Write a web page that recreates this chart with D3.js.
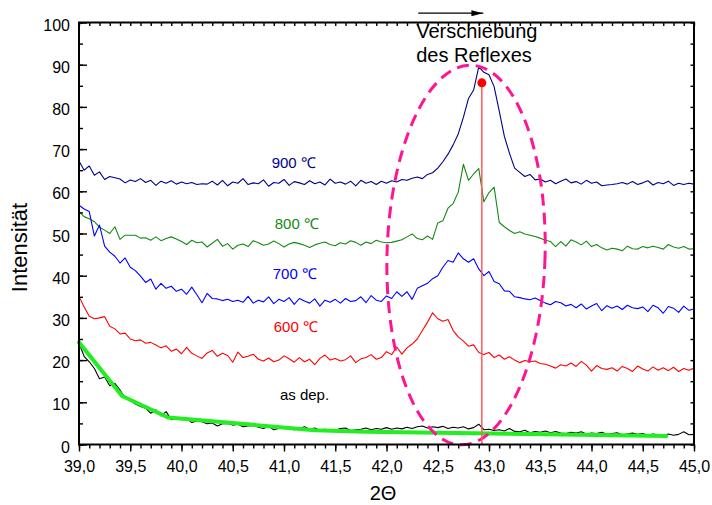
<!DOCTYPE html>
<html>
<head>
<meta charset="utf-8">
<script src="https://cdn.jsdelivr.net/npm/d3@7"></script>
<style>
  html, body { margin: 0; padding: 0; background: #fff; }
  svg { display: block; font-family: "Liberation Sans", Arial, Helvetica, sans-serif; }
</style>
</head>
<body>
<svg id="chart" width="712" height="505"></svg>
<script>
// XRD scans: intensity vs 2θ, one scan per annealing temperature.
const scanStart = 39.0;   // first 2θ of each scan
const scanStep = 0.05;    // 2θ step between readings

const xTicks = [39.0, 39.5, 40.0, 40.5, 41.0, 41.5, 42.0, 42.5, 43.0, 43.5, 44.0, 44.5, 45.0];
const yTicks = [0, 10, 20, 30, 40, 50, 60, 70, 80, 90, 100];

const seriesNames = ["900 ℃", "800 ℃", "700 ℃", "600 ℃", "as dep."];

const scan900 = [
  67.2, 65.0, 66.0, 63.8, 64.6, 62.8, 63.5, 63.2, 62.9, 62.0,
  62.7, 62.3, 63.0, 62.1, 62.6, 61.4, 62.4, 61.9, 62.5, 61.7,
  62.2, 61.8, 62.1, 61.6, 61.8, 61.7, 62.4, 61.5, 62.6, 61.3,
  62.2, 61.9, 63.0, 61.6, 62.0, 61.8, 62.7, 61.2, 62.1, 61.9,
  62.8, 61.4, 62.3, 62.0, 61.6, 62.5, 61.8, 62.2, 61.5, 62.9,
  61.9, 62.2, 61.7, 62.4, 61.3, 62.6, 61.9, 62.3, 61.6, 62.4,
  61.9, 62.5, 62.2, 62.8, 62.6, 63.1, 63.4, 63.0, 64.0, 64.4,
  65.5, 67.0, 68.8, 71.0, 73.6, 77.5, 82.0, 84.0, 89.5, 88.2,
  87.6, 84.8, 79.0, 73.0, 69.0, 65.5, 64.5, 63.5, 64.0, 62.7,
  62.9, 62.2, 62.6, 61.8, 62.4, 62.9, 62.0, 62.3, 61.7, 62.6,
  61.9, 62.2, 61.3, 61.5, 61.6, 61.8, 62.1, 61.7, 62.3, 61.6,
  62.0, 62.5, 61.5, 62.1, 61.8, 62.4, 61.4, 61.9, 61.6, 61.9,
  61.7
];

const scan800 = [
  55.2, 54.0, 53.5, 52.8, 51.5, 50.8, 50.0, 51.6, 48.6, 49.6,
  49.6, 49.6, 48.9, 49.0, 48.4, 49.2, 48.3, 48.8, 49.2, 48.7,
  48.1, 47.4, 48.4, 47.8, 48.0, 46.8, 47.7, 48.6, 47.0, 47.6,
  46.3, 47.2, 47.5, 46.9, 48.3, 47.8, 47.2, 47.5, 48.2, 47.6,
  46.8, 47.5, 47.9, 47.6, 47.2, 46.7, 47.3, 47.7, 48.0, 47.4,
  47.1, 47.8, 47.5, 48.3, 47.9, 47.2, 48.0, 47.6, 48.4, 48.0,
  47.8, 47.9, 48.2, 48.5, 49.2, 49.9, 48.8, 48.5, 49.4, 48.6,
  52.5, 53.0, 56.0, 57.1, 59.8, 66.4, 62.6, 64.1, 65.4, 57.5,
  59.7, 61.0, 52.6, 51.6, 50.7, 50.0, 50.4, 49.9, 49.6, 49.3,
  48.9, 48.4, 48.1, 46.9, 48.1, 47.0, 48.5, 48.0, 47.3, 48.2,
  46.9, 47.4, 46.6, 46.1, 46.5, 46.3, 45.9, 47.0, 46.4, 46.3,
  46.9, 46.6, 47.0, 46.7, 46.3, 47.4, 46.8, 46.5, 46.9, 46.3,
  46.4
];

const scan700 = [
  56.7, 55.8, 55.2, 49.4, 52.0, 47.0, 45.6, 44.6, 43.0, 44.2,
  42.0, 41.2, 39.9, 38.4, 39.2, 36.8, 38.2, 37.0, 37.5, 36.3,
  36.8, 35.6, 37.3, 35.5, 33.6, 35.8, 34.6, 34.5, 34.1, 34.4,
  33.9, 34.2, 33.7, 35.1, 33.5, 34.2, 33.8, 35.0, 33.4, 34.4,
  33.9, 34.8, 33.2, 34.6, 34.0, 33.5, 34.5, 32.8, 34.2, 33.7,
  34.4, 33.5, 34.6, 33.9, 34.1, 35.0, 33.6, 35.3, 34.2, 33.9,
  35.2, 34.6, 36.2, 35.1, 36.2, 34.4, 37.0, 37.6, 38.2, 39.3,
  40.0, 42.0, 43.6, 43.2, 45.4, 44.0, 43.2, 44.0, 41.6, 40.0,
  41.0, 38.6, 38.1, 36.4, 36.3, 35.0, 34.8, 34.5, 34.3, 34.7,
  34.1, 33.5, 33.1, 33.9, 33.6, 32.8, 33.2, 32.4, 33.3, 32.1,
  32.8, 33.4, 31.7, 32.9, 32.3, 32.8, 32.0, 33.0, 32.4, 32.2,
  32.6, 31.5, 33.0, 32.4, 31.1, 32.7, 32.3, 31.3, 32.8, 31.8,
  32.1
];

const scan600 = [
  35.1, 32.6, 30.4, 29.8, 30.0, 30.3, 28.0, 27.4, 26.2, 26.4,
  25.0, 24.6, 24.8, 24.0, 24.2, 23.6, 22.9, 23.4, 22.1, 22.6,
  21.5, 23.0, 21.6, 21.0, 20.4, 21.7, 22.3, 20.9, 21.6, 21.1,
  19.5, 21.9, 20.6, 20.9, 21.4, 20.2, 19.8, 20.5, 19.6, 20.0,
  21.0, 20.3, 19.5, 20.6, 19.6, 20.2, 18.9, 20.4, 21.2, 20.0,
  20.4, 19.8, 20.1, 21.0, 19.4, 20.3, 20.6, 21.3, 20.2, 20.6,
  22.0, 21.3, 23.1, 21.4, 22.9, 23.8, 25.0, 27.0, 29.0, 31.2,
  29.8, 29.2, 29.6, 27.0, 25.5, 24.5, 23.3, 23.6, 21.8, 21.3,
  21.8, 20.6, 21.2, 20.2, 20.8, 20.0, 19.4, 19.9, 19.6, 19.8,
  19.2, 19.0, 18.6, 18.1, 18.9, 18.6, 19.3, 18.5, 19.7, 18.8,
  17.4, 18.7, 18.0, 17.8, 18.2, 17.4, 18.5, 18.0, 17.3, 18.6,
  17.9, 17.4, 18.4, 17.6, 18.2, 17.5, 18.3, 17.3, 18.0, 17.6,
  18.1
];

const scanAsDep = [
  24.0, 20.9, 19.6, 18.0, 15.6, 16.0, 13.9, 14.5, 12.9, 11.0,
  10.4, 9.6, 9.0, 8.6, 7.4, 8.2, 6.8, 7.8, 5.9, 6.1,
  5.9, 6.3, 5.2, 5.6, 5.4, 4.9, 5.1, 4.4, 4.9, 5.0,
  4.6, 4.8, 4.2, 4.4, 4.5, 4.1, 3.8, 4.3, 3.5, 3.8,
  4.0, 3.7, 3.5, 3.8, 4.2, 3.6, 3.9, 3.4, 3.6, 3.2,
  3.4, 3.8, 3.9, 3.3, 3.5, 3.6, 3.9, 3.5, 3.8, 3.6,
  4.0, 3.6, 3.9, 3.7, 4.1, 3.8, 4.2, 4.4, 3.9, 4.2,
  4.0, 4.3, 3.8, 4.1, 3.9, 4.2, 3.7, 4.0, 4.8, 3.5,
  3.6, 3.3, 3.5, 3.2, 3.8, 3.1, 3.0, 3.4, 2.8, 3.1,
  2.9, 3.2, 2.8, 3.1, 2.7, 2.6, 2.9, 2.7, 3.0, 2.5,
  2.7, 2.6, 2.9, 2.4, 2.6, 2.8, 2.3, 2.5, 2.7, 2.4,
  2.6, 2.2, 2.5, 2.3, 2.1, 2.5, 2.2, 2.4, 3.0, 2.3,
  2.4
];

// background fit under the as-deposited scan
const fitTheta = [39.0, 39.42, 39.87, 41.3, 41.8, 44.73];
const fitValue = [24.2, 11.5, 6.4, 3.4, 3.0, 2.0];

// reflex position marked on the 900 ℃ scan
const reflexTheta = 42.93;
const reflexValue = 85.7;

const annotation = ["Verschiebung", "des Reflexes"];

// ---------------------------------------------------------------
const svg = d3.select("#chart");
const x = d3.scaleLinear().domain([39, 45]).range([79, 694]);
const y = d3.scaleLinear().domain([0, 100]).range([444.5, 22.5]);

const comma = d3.formatLocale({ decimal: ",", thousands: ".", grouping: [3], currency: ["", " €"] });
const fmt1 = comma.format(".1f");

const scans = [
  { name: seriesNames[0], values: scan900,   color: "#00008b", lx: 40.88, ly: 65.5 },
  { name: seriesNames[1], values: scan800,   color: "#138a13", lx: 40.91, ly: 51.1 },
  { name: seriesNames[2], values: scan700,   color: "#0000ff", lx: 40.89, ly: 39.2 },
  { name: seriesNames[3], values: scan600,   color: "#ff0000", lx: 40.90, ly: 26.6 },
  { name: seriesNames[4], values: scanAsDep, color: "#000000", lx: 40.96, ly: 10.6 }
];

const line = d3.line()
  .x((d, i) => x(scanStart + i * scanStep))
  .y(d => y(d));

const plot = svg.append("g");

plot.selectAll("path.scan")
  .data(scans)
  .join("path")
  .attr("class", "scan")
  .attr("d", d => line(d.values))
  .attr("fill", "none")
  .attr("stroke", d => d.color)
  .attr("stroke-width", 1.1)
  .attr("stroke-linejoin", "round");

// fitted background
plot.append("path")
  .attr("d", d3.line().x(d => x(d[0])).y(d => y(d[1]))(fitTheta.map((t, i) => [t, fitValue[i]])))
  .attr("fill", "none")
  .attr("stroke", "#22ee22")
  .attr("stroke-width", 4)
  .attr("stroke-linejoin", "round")
  .attr("stroke-linecap", "round");

// series labels
plot.selectAll("text.scanlabel")
  .data(scans)
  .join("text")
  .attr("class", "scanlabel")
  .attr("x", d => x(d.lx))
  .attr("y", d => y(d.ly))
  .attr("fill", d => d.color)
  .attr("font-size", 15)
  .text(d => d.name);

// dashed ellipse round the reflex region
const ecx = x(42.776), ecy = y(44.9);
plot.append("ellipse")
  .attr("cx", ecx)
  .attr("cy", ecy)
  .attr("rx", x(43.547) - x(42.776))
  .attr("ry", y(0) - y(45))
  .attr("transform", `rotate(1.6 ${ecx} ${ecy})`)
  .attr("fill", "none")
  .attr("stroke", "#ff1493")
  .attr("stroke-width", 3)
  .attr("stroke-dasharray", "12,7");

// reflex marker
plot.append("line")
  .attr("x1", x(reflexTheta)).attr("x2", x(reflexTheta))
  .attr("y1", y(reflexValue)).attr("y2", y(0))
  .attr("stroke", "#ff5a5a")
  .attr("stroke-width", 1.5);
plot.append("circle")
  .attr("cx", x(reflexTheta))
  .attr("cy", y(reflexValue))
  .attr("r", 4.5)
  .attr("fill", "#ff0000");

// shift annotation with arrow
svg.append("defs").append("marker")
  .attr("id", "head")
  .attr("viewBox", "0 0 12 6")
  .attr("refX", 12).attr("refY", 3)
  .attr("markerWidth", 12).attr("markerHeight", 6)
  .attr("markerUnits", "userSpaceOnUse")
  .attr("orient", "auto")
  .append("path").attr("d", "M0,0L12,3L0,6Z").attr("fill", "#000");

svg.append("line")
  .attr("x1", x(42.31)).attr("x2", x(42.945))
  .attr("y1", y(102.2)).attr("y2", y(102.2))
  .attr("stroke", "#000").attr("stroke-width", 1.2)
  .attr("marker-end", "url(#head)");

svg.selectAll("text.note")
  .data(annotation)
  .join("text")
  .attr("class", "note")
  .attr("x", x(42.29))
  .attr("y", (d, i) => y(96.4) + i * 24)
  .attr("font-size", 20)
  .attr("fill", "#000")
  .text(d => d);

// ---------------------------------------------------------------
// axes
const minorX = d3.range(390, 451).map(v => v / 10);
const minorY = d3.range(0, 101, 5);

const axisStyle = g => {
  g.select(".domain").remove();
  g.selectAll(".tick line").attr("stroke", "#000").attr("stroke-width", 1.4);
};

svg.append("g").attr("transform", `translate(0,${y(0)})`)
  .call(d3.axisBottom(x).tickValues(minorX).tickSize(4).tickFormat(""))
  .call(axisStyle);
svg.append("g").attr("transform", `translate(0,${y(0)})`)
  .call(d3.axisBottom(x).tickValues(xTicks).tickSize(7).tickFormat(fmt1))
  .call(axisStyle)
  .call(g => g.selectAll("text").attr("y", 27).attr("dy", 0)
    .attr("font-size", 16).attr("font-family", "Liberation Sans, Arial, sans-serif").attr("fill", "#000"));

svg.append("g").attr("transform", `translate(${x(39)},0)`)
  .call(d3.axisLeft(y).tickValues(minorY).tickSize(-4).tickFormat(""))
  .call(axisStyle);
svg.append("g").attr("transform", `translate(${x(39)},0)`)
  .call(d3.axisLeft(y).tickValues(yTicks).tickSize(-8).tickPadding(9).tickFormat(d3.format("d")))
  .call(axisStyle)
  .call(g => g.selectAll("text").attr("dy", "0.47em")
    .attr("font-size", 16).attr("font-family", "Liberation Sans, Arial, sans-serif").attr("fill", "#000"));

svg.append("g").attr("transform", `translate(0,${y(100)})`)
  .call(d3.axisTop(x).tickValues(minorX).tickSize(-3.5).tickFormat(""))
  .call(axisStyle);
svg.append("g").attr("transform", `translate(${x(45)},0)`)
  .call(d3.axisRight(y).tickValues(minorY).tickSize(-3.5).tickFormat(""))
  .call(axisStyle);

// frame
svg.append("rect")
  .attr("x", x(39)).attr("y", y(100))
  .attr("width", x(45) - x(39)).attr("height", y(0) - y(100))
  .attr("fill", "none").attr("stroke", "#000").attr("stroke-width", 2);

// axis titles
svg.append("text")
  .attr("x", 383).attr("y", 500)
  .attr("text-anchor", "middle")
  .attr("font-size", 20)
  .text("2Θ");
svg.append("text")
  .attr("transform", "translate(27,247.5) rotate(-90)")
  .attr("text-anchor", "middle")
  .attr("font-size", 22)
  .text("Intensität");
</script>
</body>
</html>
